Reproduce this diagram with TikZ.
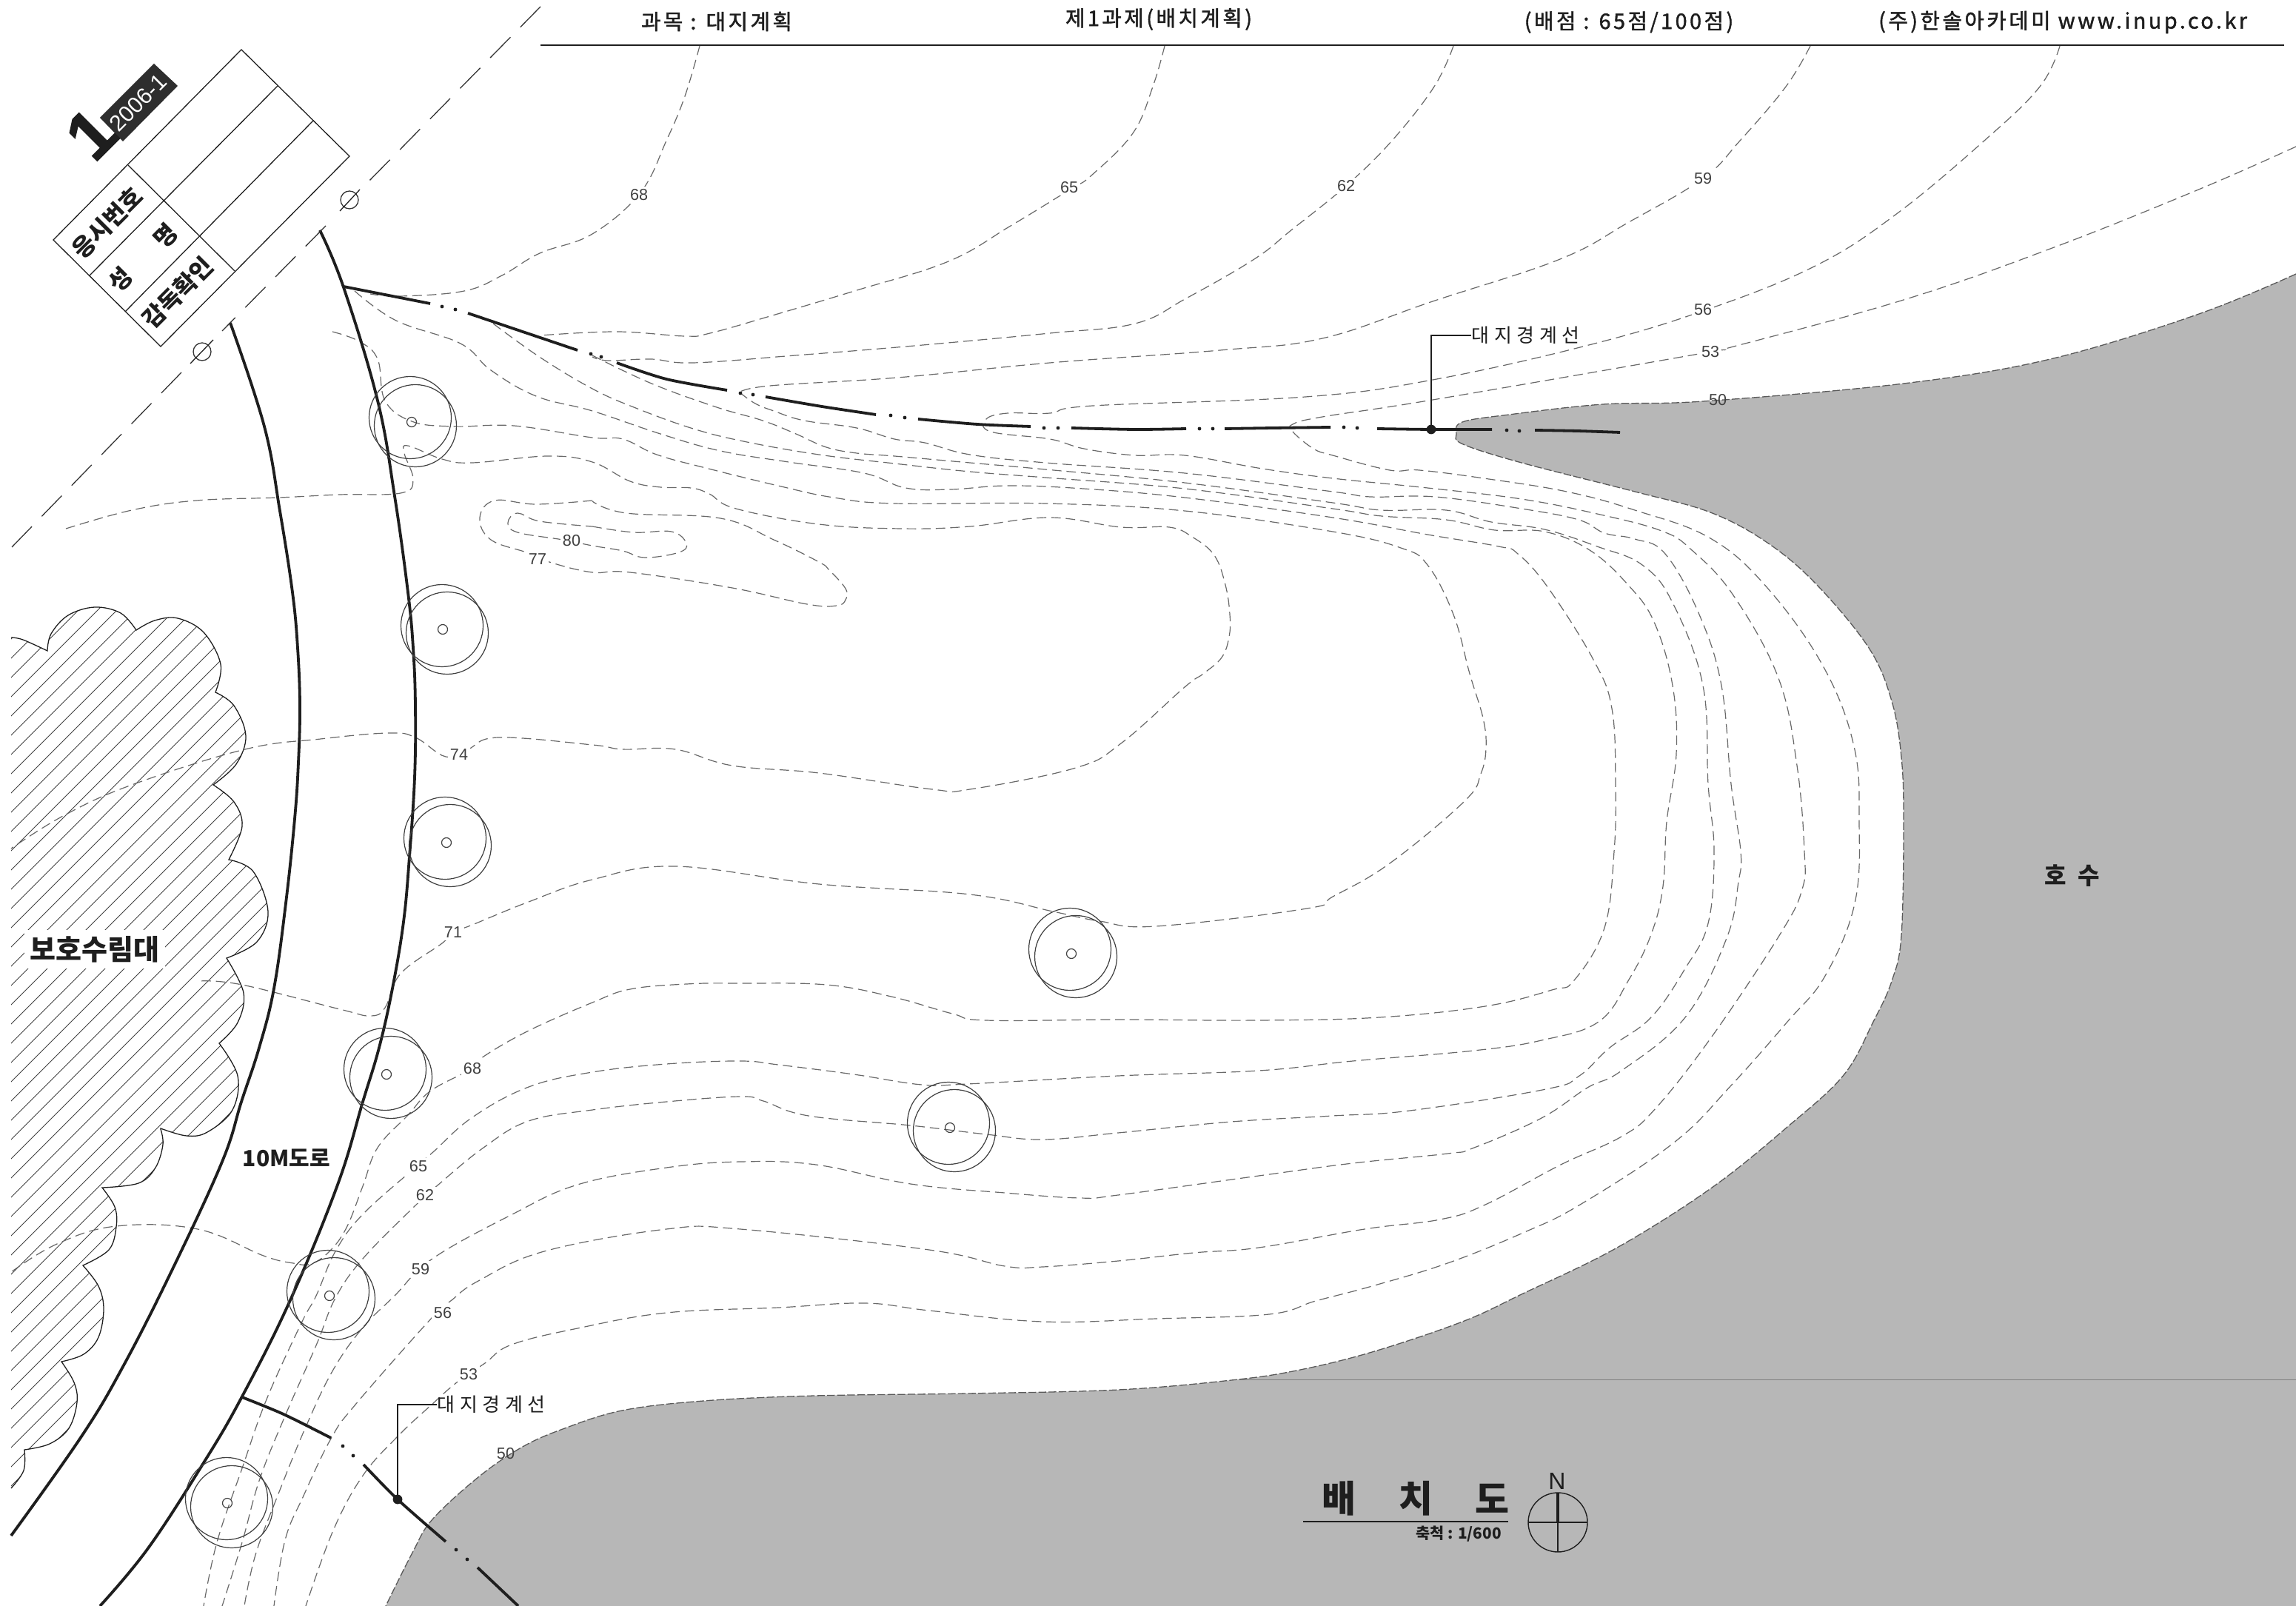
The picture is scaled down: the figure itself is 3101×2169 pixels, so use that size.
\documentclass[tikz,border=0pt]{standalone}
\usepackage{fontspec}
\setmainfont{Liberation Sans}
\newfontfamily\kr{Noto Sans CJK KR}
\newfontfamily\krw[LetterSpace=25]{Noto Sans CJK KR}
\newfontfamily\krh[LetterSpace=12,FakeBold=1.5]{Noto Sans CJK KR}
\newfontfamily\oneft[FakeBold=1.5]{Liberation Sans}
\definecolor{lakegray}{RGB}{183,183,183}
\definecolor{cgray}{RGB}{105,105,105}
\definecolor{ink}{RGB}{30,30,30}
\tikzset{
 contour/.style={draw=cgray,line width=.3pt,dash pattern=on 3.2pt off 1.7pt},
 lakeedge/.style={draw=black!65,line width=.32pt,dash pattern=on 2.6pt off .8pt},
 road/.style={draw=ink,line width=.95pt},
 bound/.style={draw=ink,line width=.95pt},
 thin/.style={draw=ink,line width=.32pt},
 level/.style={font=\fontsize{5.4}{6}\selectfont,text=black!75,inner sep=.8pt},
 levelw/.style={level,fill=white},
 bdot/.style={circle,fill=ink,inner sep=0pt,minimum size=1.1pt},
 center/.style={draw=black!80,line width=.32pt,dash pattern=on 9.7pt off 4.8pt},
 head/.style={font=\fontsize{7.2}{8}\selectfont\krh,text=ink},
 tb/.style={font=\fontsize{8}{9}\selectfont\kr\bfseries,text=ink,rotate=45,inner sep=0pt},
 big/.style={font=\kr\bfseries,text=ink,inner sep=1pt},
 leadt/.style={font=\fontsize{6.5}{7}\selectfont\krw,text=ink,inner sep=0pt},
 treeline/.style={draw=black!75,line width=.3pt},
 smoothc/.style={smooth,tension=.65},
}
\def\lakeline{plot[smooth,tension=.6] coordinates {(3101,370)(2967,425)(2769,485)(2571,518)(2300,542)(2165,546)(2038,560)(1975,570)(1967,586)(1976,600)(2055,625)(2208,664)(2310,692)(2387,733)(2453,789)(2524,875)(2555,947)(2568,1023)(2571,1110)(2568,1263)(2555,1325)(2530,1380)(2490,1452)(2414,1522)(2312,1604)(2184,1685)(2057,1747)(1975,1785)(1853,1826)(1751,1851)(1663,1864)(1510,1877)(1306,1882)(1100,1885)(950,1892)(840,1905)(760,1930)(704,1955)(646,1995)(584,2052)(557,2097)(521,2169)}}
\def\forest{plot[smooth,tension=.6] coordinates {(15,861)(31,864)(64,879)} -- plot[smooth,tension=.6] coordinates {(64,879)(69,856)(92,831)(128,820)(163,828)(184,851)} -- plot[smooth,tension=.6] coordinates {(184,851)(209,838)(240,835)(275,854)(298,897)(291,935)} -- plot[smooth,tension=.6] coordinates {(291,935)(316,953)(332,994)(319,1032)(288,1060)} -- plot[smooth,tension=.6] coordinates {(288,1060)(316,1083)(327,1116)(309,1161)} -- plot[smooth,tension=.6] coordinates {(309,1161)(342,1177)(362,1231)(347,1272)(306,1294)} -- plot[smooth,tension=.6] coordinates {(306,1294)(329,1341)(321,1381)(296,1409)} -- plot[smooth,tension=.6] coordinates {(296,1409)(321,1453)(314,1499)(280,1529)(252,1534)(217,1524)} -- plot[smooth,tension=.6] coordinates {(217,1525)(220,1546)(210,1577)(187,1598)(138,1604)} -- plot[smooth,tension=.6] coordinates {(138,1604)(155,1630)(157,1657)(147,1688)(112,1709)} -- plot[smooth,tension=.6] coordinates {(112,1709)(133,1737)(140,1768)(133,1806)(113,1829)(83,1839)} -- plot[smooth,tension=.6] coordinates {(83,1839)(100,1867)(104,1894)(93,1929)(67,1950)(33,1958)} -- plot[smooth,tension=.6] coordinates {(33,1958)(32,1986)(15,2010)}}
\begin{document}
\begin{tikzpicture}[x=.25pt,y=-.25pt]
\useasboundingbox (0,0) rectangle (3101,2169);
\fill[white] (0,0) rectangle (3101,2169);
% lake
\fill[lakegray] \lakeline -- (3101,2169) -- cycle;
\draw[draw=black!50,line width=.25pt] (1673,1863) -- (3101,1863);
\path[lakeedge] \lakeline;
% forest
\begin{scope}
\clip \forest -- cycle;
\foreach \c in {800,826,...,2100}{\draw[draw=black!75,line width=.25pt] (0,\c) -- (\c,0);}
\end{scope}
\draw[thin] \forest;
% contours
\draw[contour] plot[smoothc] coordinates {(945,62)(925,130)(900,190)(865,260)(800,316)(729,342)(678,372)(627,393)(541,400)(500,397)};
\draw[contour] plot[smoothc] coordinates {(479,393)(535,433)(622,464)(663,500)(724,535)(800,555)(892,586)(973,609)(1065,624)(1167,639)(1223,659)(1284,661)(1361,656)(1463,660)(1600,672)(1800,699)(1928,722)(2024,738)(2050,748)(2091,794)(2152,891)(2177,957)(2182,1059)(2180,1150)(2167,1253)(2126,1324)(2096,1337)(2006,1359)(1863,1374)(1700,1378)(1510,1377)(1332,1378)(1286,1369)(1204,1346)(1116,1330)(1000,1328)(927,1329)(851,1336)(800,1354)(714,1392)(653,1427)(638,1443)(582,1473)(551,1506)(510,1550)(490,1602)(468,1658)(445,1690)(420,1707)(396,1706)(356,1696)(267,1660)(157,1656)(77,1680)(15,1718)};
\draw[contour] plot[smoothc] coordinates {(1573,62)(1557,117)(1530,180)(1474,237)(1445,256)(1365,305)(1281,353)(1154,393)(1040,427)(959,450)(925,454)(833,448)(730,453)};
\draw[contour] plot[smoothc] coordinates {(666,437)(730,483)(800,525)(856,550)(933,578)(1004,596)(1106,614)(1208,626)(1310,637)(1412,645)(1600,660)(1800,687)(1866,697)(1953,702)(2019,716)(2086,718)(2147,743)(2198,789)(2234,840)(2259,926)(2264,1018)(2251,1110)(2246,1197)(2230,1262)(2200,1323)(2159,1380)(2082,1405)(1990,1419)(1827,1433)(1700,1446)(1510,1453)(1306,1464)(1245,1465)(1153,1451)(1051,1438)(1000,1433)(900,1437)(800,1448)(714,1468)(638,1509)(586,1555)(563,1575)(490,1640)(453,1690)(427,1750)(407,1787)(360,1890)(327,1983)(293,2083)(275,2169)};
\draw[contour] plot[smoothc] coordinates {(1963,62)(1937,117)(1880,190)(1818,251)(1745,310)(1694,350)(1602,403)(1533,437)(1418,450)(1235,467)(1074,480)(936,490)(879,485)(821,487)(800,482)};
\draw[contour] plot[smoothc] coordinates {(800,480)(880,518)(968,550)(1030,568)(1075,586)(1116,604)(1157,612)(1208,616)(1310,625)(1412,634)(1600,652)(1800,679)(1866,689)(1953,689)(2014,705)(2086,715)(2157,738)(2218,763)(2259,814)(2300,926)(2307,1059)(2315,1150)(2307,1247)(2276,1308)(2230,1374)(2174,1415)(2133,1453)(2088,1471)(1904,1500)(1800,1507)(1663,1515)(1510,1530)(1408,1539)(1332,1532)(1230,1520)(1092,1507)(1031,1487)(1000,1481)(900,1488)(800,1499)(714,1514)(653,1550)(592,1600)(557,1632)(490,1700)(453,1753)(427,1817)(383,1917)(350,2000)(327,2083)(300,2169)};
\draw[contour] plot[smoothc] coordinates {(2445,62)(2412,117)(2350,190)(2300,241)(2200,300)(2107,350)(1935,407)(1786,457)(1648,473)(1418,490)(1212,510)(1040,521)(999,530)};
\draw[contour] plot[smoothc] coordinates {(999,530)(1020,545)(1045,555)(1086,568)(1157,578)(1208,593)(1249,598)(1310,614)(1412,625)(1600,639)(1800,664)(1851,671)(1938,671)(2055,687)(2132,702)(2167,720)(2208,728)(2249,748)(2295,830)(2325,926)(2338,1059)(2351,1150)(2348,1191)(2332,1267)(2276,1374)(2190,1446)(2144,1469)(2082,1510)(1991,1550)(1955,1558)(1827,1571)(1700,1588)(1510,1614)(1459,1618)(1357,1611)(1230,1599)(1102,1573)(1000,1569)(900,1577)(780,1600)(690,1641)(584,1700)(533,1750)(490,1793)(450,1850)(413,1927)(375,2020)(345,2100)(330,2169)};
\draw[contour] plot[smoothc] coordinates {(2782,62)(2755,117)(2680,190)(2560,290)(2450,360)(2300,420)(2142,467)(1935,513)(1763,536)(1476,548)(1418,558)(1361,558)(1332,566)(1338,583)(1418,593)(1464,606)(1533,615)(1600,615)(1705,633)(1800,646)(1928,659)(2055,674)(2157,694)(2244,717)(2285,743)(2341,804)(2402,916)(2427,1034)(2437,1150)(2434,1201)(2404,1262)(2312,1400)(2236,1497)(2190,1535)(2108,1573)(2006,1627)(1945,1647)(1843,1660)(1700,1685)(1612,1692)(1510,1703)(1408,1711)(1357,1710)(1255,1688)(1000,1660)(900,1660)(735,1690)(646,1730)(610,1756)(583,1780)(480,1897)(447,1943)(410,2020)(385,2080)(370,2169)};
\draw[contour] plot[smoothc] coordinates {(3101,198)(2967,257)(2769,336)(2571,405)(2334,470)(2300,477)(1935,540)(1786,563)(1746,573)(1746,583)(1774,606)(1800,615)(1877,635)(1917,635)(2004,646)(2116,664)(2208,689)(2310,727)(2387,794)(2463,901)(2504,1008)(2511,1110)(2505,1220)(2465,1318)(2414,1380)(2338,1466)(2261,1543)(2134,1627)(2057,1665)(1955,1706)(1853,1737)(1777,1757)(1714,1775)(1561,1781)(1408,1785)(1255,1770)(1168,1760)(1051,1766)(900,1773)(780,1794)(691,1816)(655,1841)(617,1867)(583,1897)(537,1940)(490,1993)(450,2067)(413,2169)};
\draw[contour] plot[smoothc] coordinates {(449,448)(485,461)(510,485)(520,541)(556,569)(612,576)(694,575)(800,591)(841,593)(887,614)(953,632)(1055,657)(1126,672)(1208,680)(1412,680)(1600,690)(1800,718)(1892,740)(1928,763)(1963,830)(1985,910)(2003,970)(2007,1010)(2000,1045)(1978,1082)(1877,1166)(1800,1211)(1765,1227)(1561,1251)(1485,1244)(1422,1231)(1310,1208)(1106,1194)(912,1170)(800,1188)(714,1218)(638,1249)(612,1259)(597,1274)(541,1315)(520,1361)(500,1372)(459,1363)(327,1330)(270,1325)};
\draw[contour] plot[smoothc] coordinates {(89,714)(178,689)(265,676)(377,672)(459,668)(541,666)(558,648)(546,612)(551,602)(597,620)(638,625)(740,616)(800,624)(851,650)(892,658)(933,659)(958,667)(994,687)(1106,708)(1218,714)(1310,711)(1418,699)(1514,712)(1579,712)(1610,725)(1640,750)(1655,790)(1661,830)(1660,860)(1650,888)(1625,910)(1600,928)(1514,1004)(1453,1037)(1310,1066)(1259,1066)(1106,1044)(989,1034)(912,1012)(841,1012)(800,1006)(673,996)(632,1012)(602,1022)(561,996)(525,990)(433,998)(331,1012)(178,1060)(87,1101)(15,1146)};
\draw[contour] plot[smoothc] coordinates {(800,676)(724,681)(668,676)(648,699)(663,729)(714,747)(745,760)(800,773)(851,773)(989,794)(1090,816)(1130,818)(1142,810)(1142,795)(1120,770)(1106,759)(1045,729)(973,700)(846,693)(800,677)};
\draw[contour] plot[smoothc] coordinates {(800,711)(856,719)(907,718)(927,734)(917,746)(871,753)(841,744)(800,737)(760,729)(699,719)(686,706)(699,693)(729,704)(800,711)};
% road
\draw[road] plot[smoothc] coordinates {(311,436)(357,576)(378,690)(395,800)(402,875)(405,953)(403,1030)(398,1106)(386,1220)(370,1335)(350,1415)(326,1488)(300,1569)(233,1714)(167,1844)(110,1940)(15,2074)};
\draw[road] plot[smoothc] coordinates {(432,311)(464,388)(510,541)(533,670)(551,800)(558,875)(561,953)(560,1050)(553,1157)(545,1245)(530,1335)(512,1415)(490,1488)(456,1600)(392,1756)(327,1886)(276,1974)(200,2091)(135,2169)};
% centre line
\coordinate (ca) at (730,9); \coordinate (cb) at (493,250); \coordinate (cc) at (440,305); \coordinate (cd) at (300,447); \coordinate (ce) at (245,503); \coordinate (cf) at (14,741);
\draw[center] (ca) -- (cb);
\draw[center] (cc) -- (cd);
\draw[center] (ce) -- (cf);
\node[circle,draw=black!80,line width=.32pt,minimum size=6pt,inner sep=0pt] (s1) at (472,270) {};
\node[circle,draw=black!80,line width=.32pt,minimum size=6pt,inner sep=0pt] (s2) at (273,475) {};
\draw[thin] (459,285) -- (486,256);
\draw[thin] (257,491) -- (288,459);
% title block
\coordinate (t1) at (326,67); \coordinate (t2) at (472,211); \coordinate (t3) at (217,468); \coordinate (t4) at (72,324);
\draw[thin] (t1) -- (t2) -- (t3) -- (t4) -- cycle;
\draw[thin] (375,116) -- (121,372);
\draw[thin] (423,163) -- (169,421);
\draw[thin] (173,223) -- (317,366);
\node[tb] (b1) at (145,301) {응시번호};
\node[tb] (b2) at (162,378) {성};
\node[tb] (b3) at (223,319) {명};
\node[tb] (b4) at (240,395) {감독확인};
\fill[black!82] (208,86) -- (240,116) -- (166,191) -- (135,159) -- cycle;
\node[rotate=45,text=white,font=\fontsize{7.6}{9}\selectfont,inner sep=0pt] (yr) at (187,139) {2006-1};
\node[rotate=45,text=ink,font=\fontsize{23}{23}\selectfont\oneft\bfseries,inner sep=0pt] (one) at (123,181) {1};
% header
\draw[draw=ink,line width=.7pt] (730,61) -- (3085,61);
\node[head] (h1) at (968,29) {과목 : 대지계획};
\node[head] (h2) at (1565,26) {제1과제(배치계획)};
\node[head] (h3) at (2200,30) {(배점 : 65점/100점)};
\node[head] (h4) at (2786,30) {(주)한솔아카데미 www.inup.co.kr};
% trees
\foreach \x/\y/\ax/\ay/\bx/\by in {556/570/554/564/561/575,598/850/597/845/604/855,603/1138/601/1132/608/1142,522/1451/520/1444/528/1455,445/1750/443/1744/451/1754,307/2030/306/2024/313/2035,1447/1288/1445/1282/1453/1292,1283/1523/1281/1517/1289/1527}{
 \draw[treeline] (\x,\y) circle[radius=6.5];
 \draw[treeline] (\ax,\ay) circle[radius=55.5];
 \draw[treeline] (\bx,\by) circle[radius=55.5];
}
% site boundary
\draw[bound] plot[smooth] coordinates {(464,387)(520,398)(581,410)};
\draw[bound] plot[smooth] coordinates {(632,423)(700,446)(780,473)};
\draw[bound] plot[smooth] coordinates {(833,490)(900,512)(982,527)};
\draw[bound] plot[smooth] coordinates {(1034,536)(1110,549)(1183,560)};
\draw[bound] plot[smooth] coordinates {(1240,566)(1320,573)(1392,576)};
\draw[bound] plot[smooth] coordinates {(1447,578)(1533,580)(1602,579)};
\draw[bound] plot[smooth] coordinates {(1654,579)(1720,578)(1797,577)};
\draw[bound] plot[smooth] coordinates {(1860,579)(1933,580)(2015,580)};
\draw[bound] plot[smooth] coordinates {(2073,581)(2130,582)(2188,584)};
\foreach \x/\y in {597/414,615/418,798/478,812/482,1000/531,1017/533,1203/561,1222/564,1410/578,1429/578,1620/579,1638/579,1815/577,1833/578,2035/581,2052/582}{\fill[ink] (\x,\y) circle[radius=2.4];}
\draw[bound] plot[smooth] coordinates {(327,1887)(383,1910)(447,1942)};
\draw[bound] plot[smooth] coordinates {(491,1978)(537,2025)(602,2082)};
\draw[bound] (645,2117) -- (700,2169);
\foreach \x/\y in {463/1953,477/1966,616/2093,631/2106}{\fill[ink] (\x,\y) circle[radius=2.4];}
% leaders
\node[bdot,minimum size=3.2pt] (d1) at (1933,580) {};
\node[leadt,anchor=west] (l1) at (1987,453) {대지경계선};
\draw[thin] (d1.center) |- (l1.west);
\node[bdot,minimum size=3.2pt] (d2) at (537,2025) {};
\node[leadt,anchor=west] (l2) at (590,1897) {대지경계선};
\draw[thin] (d2.center) |- (l2.west);
% level labels
\node[levelw] (c1) at (863,263) {68};
\node[levelw] (c2) at (1444,253) {65};
\node[levelw] (c3) at (1818,251) {62};
\node[levelw] (c4) at (2300,241) {59};
\node[levelw] (c5) at (2300,418) {56};
\node[levelw] (c6) at (2310,475) {53};
\node[level] (c7) at (2320,540) {50};
\node[levelw] (c8) at (772,730) {80};
\node[levelw] (c9) at (726,755) {77};
\node[levelw] (c10) at (620,1019) {74};
\node[levelw] (c11) at (612,1259) {71};
\node[levelw] (c12) at (638,1443) {68};
\node[levelw] (c13) at (565,1575) {65};
\node[levelw] (c14) at (574,1614) {62};
\node[levelw] (c15) at (568,1714) {59};
\node[levelw] (c16) at (598,1773) {56};
\node[levelw] (c17) at (633,1856) {53};
\node[level] (c18) at (683,1963) {50};
% area labels
\node[big,fill=white,font=\fontsize{9.5}{10}\selectfont\kr\bfseries,inner sep=2pt] (n1) at (128,1282) {보호수림대};
\node[big,font=\fontsize{7.5}{9}\selectfont\kr\bfseries] (n2) at (387,1564) {10M도로};
\node[big,font=\fontsize{8}{9}\selectfont\krw\bfseries] (n3) at (2799,1183) {호 수};
% title
\node[big,font=\fontsize{12.5}{14}\selectfont\kr\bfseries] (m1) at (1808,2024) {배};
\node[big,font=\fontsize{12.5}{14}\selectfont\kr\bfseries] (m2) at (1912,2024) {치};
\node[big,font=\fontsize{12.5}{14}\selectfont\kr\bfseries] (m3) at (2015,2024) {도};
\draw[draw=ink,line width=.4pt] (1760,2055) -- (2037,2055);
\node[big,font=\fontsize{5.2}{6}\selectfont\kr\bfseries] (m4) at (1970,2072) {축척 : 1/600};
\node[text=ink,font=\fontsize{8}{9}\selectfont,inner sep=0pt] (north) at (2103,2000) {N};
\coordinate (nc) at (2104,2056);
\draw[draw=ink,line width=.35pt] (nc) circle[radius=40];
\draw[draw=ink,line width=.3pt] (2064,2056) -- (2144,2056);
\draw[draw=ink,line width=.3pt] (nc) -- (2104,2096);
\draw[draw=ink,line width=.8pt] (nc) -- (2104,2016);
\end{tikzpicture}
\end{document}
